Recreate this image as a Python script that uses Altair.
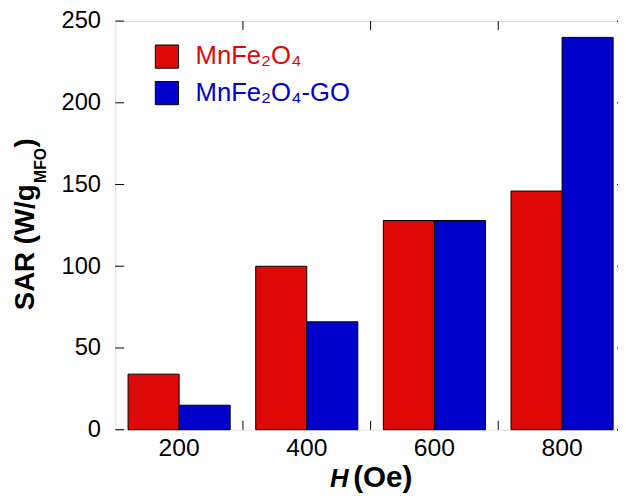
import altair as alt
import pandas as pd

# ---------------- data ----------------
fields = ["200", "400", "600", "800"]          # H (Oe)
series = ["MnFe₂O₄", "MnFe₂O₄-GO"]
sar_mnfe2o4 = [34, 100, 128, 146]
sar_mnfe2o4_go = [15, 66, 128, 240]
y_ticks = [0, 50, 100, 150, 200, 250]
colors = ["#DD0808", "#0000CC"]

ytitle_main = ["SAR (W/g"]
ytitle_sub = ["MFO"]
ytitle_close = [")"]
xtitle_var = ["H"]
xtitle_unit = ["(Oe)"]

rows = []
for h, a, b in zip(fields, sar_mnfe2o4, sar_mnfe2o4_go):
    rows.append({"H": h, "series": series[0], "SAR": a})
    rows.append({"H": h, "series": series[1], "SAR": b})
df = pd.DataFrame(rows)
df_yt = pd.DataFrame({"SAR": y_ticks})
df_xt = pd.DataFrame({"H": fields})

FONT = "Liberation Sans"
FULL_W = 517.3          # full plot width (right edge cropped like the reference)
PLOT_H = 414
STEP = FULL_W / 4
TICK = 9

xscale = alt.Scale(domain=fields, paddingInner=0.2, paddingOuter=0.1)
yscale = alt.Scale(domain=[0, 250], nice=False, zero=True)

XAXIS = alt.Axis(orient="bottom", title=None, labelAngle=0, labelFont=FONT,
                 labelFontSize=25, labelColor="black", labelPadding=6,
                 ticks=False, tickSize=0, domain=False, grid=False)
YAXIS = alt.Axis(orient="left", title=None, values=y_ticks, labelFont=FONT,
                 labelFontSize=24, labelColor="black", labelPadding=15,
                 ticks=False, tickSize=0, domain=False, grid=False)


def xenc():
    return alt.X("H:N", scale=xscale, sort=fields, axis=XAXIS, title=None)


def yenc():
    return alt.Y("SAR:Q", scale=yscale, stack=None, axis=YAXIS, title=None)


bars = alt.Chart(df).mark_bar(stroke="black", strokeWidth=1).encode(
    x=xenc(),
    xOffset=alt.XOffset("series:N", sort=series,
                        scale=alt.Scale(paddingInner=0, paddingOuter=0)),
    y=yenc(),
    color=alt.Color("series:N", sort=series,
                    scale=alt.Scale(domain=series, range=colors),
                    legend=alt.Legend(orient="none", legendX=39.3, legendY=23,
                                      title=None, symbolType="square", symbolSize=552,
                                      symbolStrokeColor="black", symbolStrokeWidth=1,
                                      labelFont=FONT, labelFontSize=26, labelOffset=16,
                                      labelLimit=0, rowPadding=9, padding=0,
                                      labelColor=alt.ExprRef(
                                          expr="indexof(datum.label, '-GO') >= 0 ? '#0000CC' : '#DD0808'"))),
)

# inward tick marks (left / right on y values, bottom / top between groups)
yt = alt.Chart(df_yt)
ticks_left = yt.mark_rule(color="black", strokeWidth=1).encode(
    y=yenc(), x=alt.value(0), x2=alt.value(TICK))
ticks_right = yt.mark_rule(color="black", strokeWidth=1).encode(
    y=yenc(), x=alt.value(FULL_W - TICK), x2=alt.value(FULL_W))
xt = alt.Chart(df_xt)
ticks_bottom = xt.mark_rule(color="black", strokeWidth=1, xOffset=STEP / 2).encode(
    x=xenc(), y=alt.value(PLOT_H - TICK), y2=alt.value(PLOT_H))
ticks_top = xt.mark_rule(color="black", strokeWidth=1, xOffset=STEP / 2).encode(
    x=xenc(), y=alt.value(0), y2=alt.value(TICK))


def label(texts, x, y, size, angle=0, style="normal"):
    return alt.Chart(pd.DataFrame({"t": texts})).mark_text(
        angle=angle, align="left", baseline="alphabetic", font=FONT,
        fontWeight="bold", fontStyle=style, fontSize=size, color="black",
    ).encode(text="t:N", x=alt.value(x), y=alt.value(y))


t_main = label(ytitle_main, -82.7, 293, 28, angle=270)
t_sub = label(ytitle_sub, -70.7, 164, 16, angle=270)
t_close = label(ytitle_close, -82.7, 128, 28, angle=270)
t_h = label(xtitle_var, 217.5, 472, 26, style="italic")
t_unit = label(xtitle_unit, 241.0, 472, 30)

chart = alt.layer(
    bars, ticks_left, ticks_right, ticks_bottom, ticks_top,
    t_main, t_sub, t_close, t_h, t_unit
).properties(
    width=FULL_W, height=PLOT_H,
    padding={"left": 108.7, "top": 10, "right": -8, "bottom": 70},
    autosize=alt.AutoSizeParams(type="none"),
).configure_view(stroke="black", strokeWidth=1).configure(background="white")

chart.save("out.html", embed_options={"renderer": "svg", "actions": False})
